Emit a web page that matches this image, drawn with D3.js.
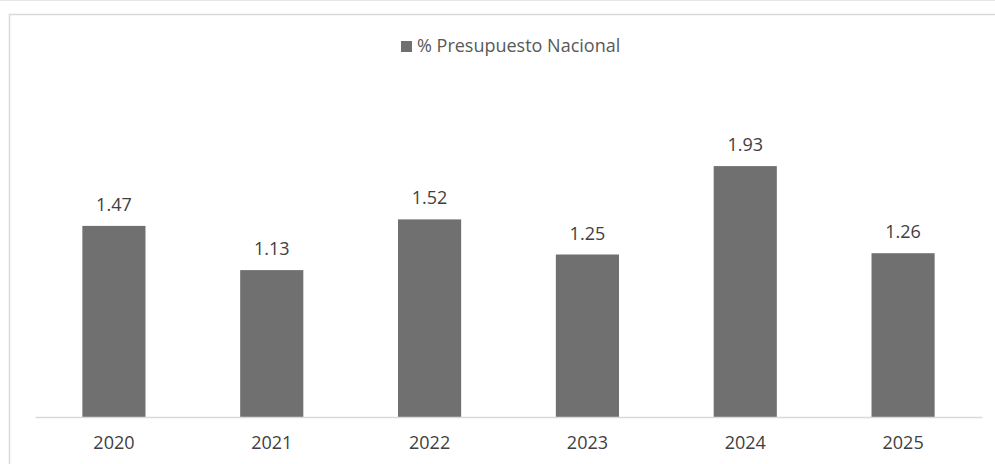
<!DOCTYPE html>
<html>
<head>
<meta charset="utf-8">
<script src="https://cdn.jsdelivr.net/npm/d3@7"></script>
<style>
  body { margin:0; background:#fff; }
  text { font-family: "Open Sans", "Liberation Sans", sans-serif; }
</style>
</head>
<body>
<div id="chart"></div>
<script>
var years = ["2020", "2021", "2022", "2023", "2024", "2025"];
var values = [1.47, 1.13, 1.52, 1.25, 1.93, 1.26];
var seriesName = "% Presupuesto Nacional";

var width = 995, height = 464;
var svg = d3.select("#chart").append("svg")
    .attr("width", width)
    .attr("height", height);

// thin line along the top + chart area frame
svg.append("line")
    .attr("x1", 0).attr("x2", width)
    .attr("y1", 0.5).attr("y2", 0.5)
    .attr("stroke", "#e6e6e6");
svg.append("rect")
    .attr("x", 9.5).attr("y", 14.5)
    .attr("width", width + 20).attr("height", height + 20)
    .attr("fill", "none")
    .attr("stroke", "#d9d9d9")
    .attr("stroke-width", 1.5);

var x = d3.scaleBand()
    .domain(years)
    .range([35, 982])
    .paddingInner(0.6)
    .paddingOuter(0.3);

var y = d3.scaleLinear()
    .domain([0, 2.5])
    .range([417, 92]);

svg.selectAll(".bar")
    .data(values)
    .enter().append("rect")
    .attr("class", "bar")
    .attr("x", function(d, i) { return x(years[i]); })
    .attr("y", function(d) { return y(d); })
    .attr("width", x.bandwidth())
    .attr("height", function(d) { return y(0) - y(d); })
    .attr("fill", "#707070");

// value labels
svg.selectAll(".lbl")
    .data(values)
    .enter().append("text")
    .attr("class", "lbl")
    .attr("x", function(d, i) { return x(years[i]) + x.bandwidth() / 2; })
    .attr("y", function(d) { return y(d) - 15; })
    .attr("text-anchor", "middle")
    .attr("font-size", 18)
    .attr("fill", "#404040")
    .text(function(d) { return d3.format(".2f")(d); });

// baseline + category axis
var axis = svg.append("g")
    .attr("transform", "translate(0," + y(0) + ")")
    .call(d3.axisBottom(x).tickSize(0).tickPadding(19));
axis.select(".domain").attr("stroke", "#d9d9d9").attr("stroke-width", 1.5);
axis.selectAll("text")
    .attr("font-size", 18)
    .attr("fill", "#404040")
    .style("font-family", "'Open Sans', 'Liberation Sans', sans-serif");

// legend
var leg = svg.append("g").attr("transform", "translate(401,41)");
leg.append("rect")
    .attr("width", 11).attr("height", 11)
    .attr("fill", "#707070");
leg.append("text")
    .attr("x", 16).attr("y", 11)
    .attr("font-size", 18)
    .attr("fill", "#595959")
    .text(seriesName);
</script>
</body>
</html>
